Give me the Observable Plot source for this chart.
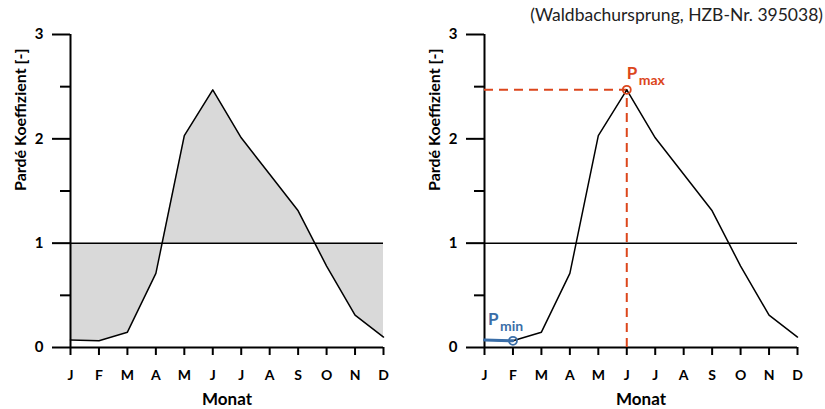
<!DOCTYPE html>
<html><head><meta charset="utf-8">
<script src="https://cdn.jsdelivr.net/npm/d3@7"></script>
<script src="https://cdn.jsdelivr.net/npm/@observablehq/plot@0.6"></script>
<style>
body{margin:0;background:#fff;font-family:Lato,sans-serif;}
#wrap{position:relative;width:825px;height:409px;overflow:hidden;background:#fff}
#sub{position:absolute;right:2px;top:4px;font-size:17.5px;color:#222;font-family:Lato,sans-serif;white-space:nowrap}
.p{position:absolute;top:0}
</style></head><body>
<div id="wrap">
<div id="left" class="p" style="left:0"></div>
<div id="right" class="p" style="left:414px"></div>
<div id="sub">(Waldbachursprung, HZB-Nr. 395038)</div>
</div>
<script>
const months = ["J","F","M","A","M","J","J","A","S","O","N","D"];
const monthIndex = [0,1,2,3,4,5,6,7,8,9,10,11];
const parde = [0.073,0.064,0.147,0.71,2.03,2.47,2.01,1.66,1.31,0.78,0.31,0.10];
const yTicks = [0,1,2,3];
const yMinor = [0.5,1.5,2.5];
const yLabel = "Pardé Koeffizient [-]";
const xLabel = "Monat";
const maxIdx = [5];
const minIdx = [1];
const minSeg = [0,1];

const data = monthIndex.map(i => ({i, v: parde[i]}));
const RED = "#dc461c", BLUE = "#3a6ea8";

function baseMarks() {
  return [
    Plot.axisY(yTicks, {tickSize: 18, tickPadding: 9, strokeWidth: 2, label: null, fontSize: 15, tickFormat: d => String(d)}),
    Plot.axisY(yMinor, {tickSize: 10, tickFormat: () => "", strokeWidth: 2, label: null}),
    Plot.axisX(monthIndex, {tickSize: 8, tickPadding: 15, strokeWidth: 2, tickFormat: i => months[i], label: null, fontSize: 14}),
    Plot.ruleX([0], {y1: 0, y2: 3, strokeWidth: 2}),
    Plot.ruleY([0], {x1: 0, x2: 11, strokeWidth: 2}),
    Plot.text([yLabel], {frameAnchor: "left", rotate: -90, dx: -50, fontSize: 16, fontWeight: "bold"}),
    Plot.text([xLabel], {frameAnchor: "bottom", lineAnchor: "bottom", dy: 57, fontSize: 17, fontWeight: "bold"})
  ];
}

const common = {
  height: 409,
  marginTop: 34, marginBottom: 62, marginLeft: 70,
  x: {domain: [0, 11]},
  y: {domain: [0, 3]},
  style: {fontFamily: "Lato, sans-serif", fontWeight: "bold", color: "#000", background: "transparent"}
};

const left = Plot.plot({
  ...common, width: 412, marginRight: 29,
  marks: [
    Plot.areaY(data, {x: "i", y1: 1, y2: "v", fill: "#d9d9d9"}),
    ...baseMarks(),
    Plot.ruleY([1], {x1: 0, x2: 11, strokeWidth: 1.5}),
    Plot.line(data, {x: "i", y: "v", stroke: "#000", strokeWidth: 1.5})
  ]
});
document.getElementById("left").append(left);

const maxD = maxIdx.map(i => ({i, v: parde[i]}));
const minD = minIdx.map(i => ({i, v: parde[i]}));
const segD = minSeg.map(i => ({i, v: parde[i]}));

const right = Plot.plot({
  ...common, width: 411, marginRight: 28,
  marks: [
    ...baseMarks(),
    Plot.ruleY([1], {x1: 0, x2: 11, strokeWidth: 1.5}),
    Plot.ruleY(maxD, {y: "v", x1: 0, x2: "i", stroke: RED, strokeWidth: 2, strokeDasharray: "9,6"}),
    Plot.ruleX(maxD, {x: "i", y1: 0, y2: "v", stroke: RED, strokeWidth: 2, strokeDasharray: "9,6"}),
    Plot.line(data, {x: "i", y: "v", stroke: "#000", strokeWidth: 1.5}),
    Plot.line(segD, {x: "i", y: "v", stroke: BLUE, strokeWidth: 3}),
    Plot.dot(maxD, {x: "i", y: "v", r: 4, stroke: RED, strokeWidth: 1.8}),
    Plot.dot(minD, {x: "i", y: "v", r: 4, stroke: BLUE, strokeWidth: 1.8}),
    Plot.text(maxD, {x: "i", y: "v", text: () => "P", fill: RED, textAnchor: "start", lineAnchor: "bottom", dx: 0, dy: -11, fontSize: 17, fontWeight: "bold"}),
    Plot.text(maxD, {x: "i", y: "v", text: () => "max", fill: RED, textAnchor: "start", lineAnchor: "bottom", dx: 12, dy: -5, fontSize: 14, fontWeight: "bold"}),
    Plot.text(minD, {x: "i", y: "v", text: () => "P", fill: BLUE, textAnchor: "start", lineAnchor: "bottom", dx: -25, dy: -16, fontSize: 17, fontWeight: "bold"}),
    Plot.text(minD, {x: "i", y: "v", text: () => "min", fill: BLUE, textAnchor: "start", lineAnchor: "bottom", dx: -13, dy: -10, fontSize: 14, fontWeight: "bold"})
  ]
});
document.getElementById("right").append(right);
</script>
</body></html>
